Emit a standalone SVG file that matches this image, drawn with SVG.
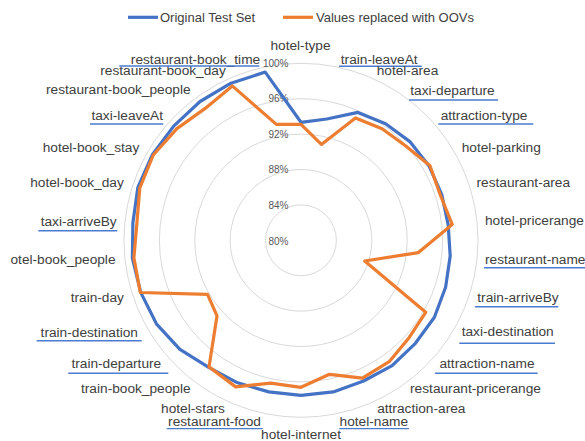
<svg xmlns="http://www.w3.org/2000/svg" width="585" height="441" viewBox="0 0 585 441">
<style>
.grid{fill:none;stroke:#d9d9d9;stroke-width:1}
.pct{font-family:"Liberation Sans",Arial,sans-serif;font-size:10px;fill:#595959;text-anchor:end}
.lbl{font-family:"Liberation Sans",Arial,sans-serif;font-size:13.7px;fill:#404040;text-anchor:middle}
.st{text-anchor:start}
.leg{font-family:"Liberation Sans",Arial,sans-serif;font-size:13px;fill:#404040}
.ul{stroke:#4a7bd0;stroke-width:1.4;fill:none}
.blue{fill:none;stroke:#4472c4;stroke-width:3.2;stroke-linejoin:round}
.orange{fill:none;stroke:#ed7d31;stroke-width:3.2;stroke-linejoin:round}
</style>
<rect width="585" height="441" fill="#ffffff"/>
<g id="legend">
<line x1="128" y1="17.3" x2="158" y2="17.3" stroke="#4472c4" stroke-width="3.2"/>
<text class="leg" x="160" y="21.8">Original Test Set</text>
<line x1="283" y1="17.3" x2="313" y2="17.3" stroke="#ed7d31" stroke-width="3.2"/>
<text class="leg" x="316" y="21.8">Values replaced with OOVs</text>
</g>
<g id="gridlines">
<circle class="grid" cx="301" cy="240.3" r="35.4"/>
<circle class="grid" cx="301" cy="240.3" r="70.8"/>
<circle class="grid" cx="301" cy="240.3" r="106.2"/>
<circle class="grid" cx="301" cy="240.3" r="141.6"/>
<circle class="grid" cx="301" cy="240.3" r="177"/>
</g>
<g id="axis-values">
<text class="pct" x="288.5" y="66.7">100%</text>
<text class="pct" x="288.5" y="102.3">96%</text>
<text class="pct" x="288.5" y="138">92%</text>
<text class="pct" x="288.5" y="173.3">88%</text>
<text class="pct" x="288.5" y="209.2">84%</text>
<text class="pct" x="288.5" y="244.7">80%</text>
</g>
<g id="connectors">
<polygon id="series-original" class="blue" points="301,122.3 326.8,119 357.9,112.4 385.6,123.8 410.2,141.9 429.2,166.3 441.8,194.6 448.2,224.8 450.2,256 445.6,287.3 434.4,317.3 415.4,343.3 392.1,365.7 363.6,381 333.2,391.9 301,395.3 268.8,391.9 237.6,382.8 208.7,367.3 179.9,349.4 156.4,323.8 140.7,292.4 132.4,258 132.9,222.6 137.9,187.3 152.5,154.5 173.9,125.9 200.1,101.5 231,83.2 265.2,72.1"/>
<polygon id="series-oov" class="orange" points="301,124.3 321.4,144.4 355.5,117.9 382.1,128.7 405.8,146 430,165.8 440.3,195 452.2,224.4 418.4,252.6 364.7,261 425.7,312.3 409.1,337.7 389.2,361.7 362.4,378.2 329.5,374.3 301,387.3 270.6,383.1 235.7,386.9 209,366.9 217,315.9 207.5,294.3 140.3,292.5 133.9,257.9 136.9,223.1 139.8,187.9 153.3,155 176.9,128.6 205.2,108.4 232.3,85.9 276.4,124.4"/>
</g>
<g id="n-hotel-type"><text class="lbl" x="300.5" y="49.5">hotel-type</text></g>
<g id="n-train-leaveAt"><text class="lbl" x="379.2" y="63.5">train-leaveAt</text><line class="ul" x1="339" y1="66.3" x2="421.7" y2="66.3"/></g>
<g id="n-hotel-area"><text class="lbl" x="407.5" y="75">hotel-area</text></g>
<g id="n-taxi-departure"><text class="lbl" x="452.5" y="95">taxi-departure</text><line class="ul" x1="409" y1="100" x2="498" y2="100"/></g>
<g id="n-attraction-type"><text class="lbl" x="484" y="120">attraction-type</text><line class="ul" x1="438.3" y1="124" x2="533.3" y2="124"/></g>
<g id="n-hotel-parking"><text class="lbl" x="501.3" y="151.7">hotel-parking</text></g>
<g id="n-restaurant-area"><text class="lbl" x="523.3" y="187.3">restaurant-area</text></g>
<g id="n-hotel-pricerange"><text class="lbl st" x="485" y="225">hotel-pricerange</text></g>
<g id="n-restaurant-name"><text class="lbl st" x="485" y="264">restaurant-name</text><line class="ul" x1="484" y1="267.7" x2="585" y2="267.7"/></g>
<g id="n-train-arriveBy"><text class="lbl" x="518" y="301.7">train-arriveBy</text><line class="ul" x1="475" y1="306.7" x2="558.3" y2="306.7"/></g>
<g id="n-taxi-destination"><text class="lbl" x="507.7" y="336">taxi-destination</text><line class="ul" x1="459.3" y1="343.3" x2="555" y2="343.3"/></g>
<g id="n-attraction-name"><text class="lbl" x="487" y="368.3">attraction-name</text><line class="ul" x1="435" y1="373.3" x2="537.7" y2="373.3"/></g>
<g id="n-restaurant-pricerange"><text class="lbl" x="475.5" y="393.3">restaurant-pricerange</text></g>
<g id="n-attraction-area"><text class="lbl" x="421.3" y="413.3">attraction-area</text></g>
<g id="n-hotel-name"><text class="lbl" x="373.8" y="425.7">hotel-name</text><line class="ul" x1="339.3" y1="428.6" x2="409" y2="428.6"/></g>
<g id="n-hotel-internet"><text class="lbl" x="301" y="438.7">hotel-internet</text></g>
<g id="n-restaurant-food"><text class="lbl" x="214.5" y="425.7">restaurant-food</text><line class="ul" x1="166.7" y1="428.6" x2="262.7" y2="428.6"/></g>
<g id="n-hotel-stars"><text class="lbl" x="193" y="413.3">hotel-stars</text></g>
<g id="n-train-book_people"><text class="lbl" x="135.8" y="393.3">train-book_people</text></g>
<g id="n-train-departure"><text class="lbl" x="116.3" y="368.3">train-departure</text><line class="ul" x1="68.3" y1="373.3" x2="168.3" y2="373.3"/></g>
<g id="n-train-destination"><text class="lbl" x="89.3" y="336.7">train-destination</text><line class="ul" x1="36.7" y1="340.7" x2="141.7" y2="340.7"/></g>
<g id="n-train-day"><text class="lbl" x="97.3" y="301.7">train-day</text></g>
<g id="n-hotel-book_people"><text class="lbl" x="63" y="264">otel-book_people</text></g>
<g id="n-taxi-arriveBy"><text class="lbl" x="78.7" y="225.5">taxi-arriveBy</text><line class="ul" x1="38.3" y1="230.7" x2="117.3" y2="230.7"/></g>
<g id="n-hotel-book_day"><text class="lbl" x="77" y="187.3">hotel-book_day</text></g>
<g id="n-hotel-book_stay"><text class="lbl" x="91" y="151.7">hotel-book_stay</text></g>
<g id="n-taxi-leaveAt"><text class="lbl" x="127.2" y="120">taxi-leaveAt</text><line class="ul" x1="90" y1="124" x2="163.3" y2="124"/></g>
<g id="n-restaurant-book_people"><text class="lbl" x="118.3" y="94.3">restaurant-book_people</text></g>
<g id="n-restaurant-book_day"><text class="lbl" x="163" y="75">restaurant-book_day</text></g>
<g id="n-restaurant-book_time"><text class="lbl" x="195.5" y="63.5">restaurant-book_time</text><line class="ul" x1="119.3" y1="66" x2="259.3" y2="66"/></g>
</svg>
